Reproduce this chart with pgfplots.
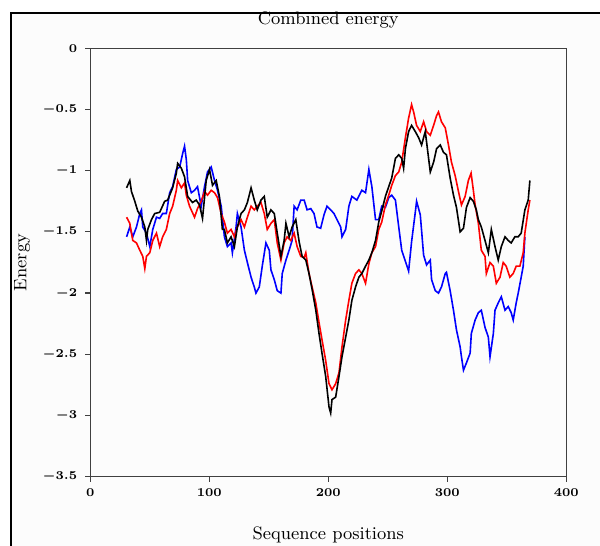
\documentclass[border=0pt]{standalone}
\usepackage{pgfplots}
\pgfplotsset{compat=1.18}

\begin{document}
\begin{tikzpicture}
% page = 600x546 px at 0.5pt per px, axis box lower-left at origin
\path[use as bounding box] (-45.15pt,-34.65pt) rectangle (254.85pt,238.35pt);
\fill[white] (-45.15pt,-34.65pt) rectangle (254.85pt,238.35pt);
\fill[black!1] (-39.65pt,-34.65pt) rectangle (254.85pt,231.85pt);
\draw[line width=1.1pt] (-39.65pt,-34.65pt) -- (-39.65pt,231.85pt) -- (254.85pt,231.85pt);
\begin{axis}[
  scale only axis,
  width=238pt, height=214.2pt,
  xmin=0, xmax=400, ymin=-3.5, ymax=0,
  xtick={0,100,200,300,400},
  ytick={0,-0.5,-1,-1.5,-2,-2.5,-3,-3.5},
  xtick pos=left, ytick pos=left,
  tick align=outside, major tick length=2.5pt,
  axis line style={black!75, line width=0.6pt},
  every tick/.style={black!75, line width=0.6pt},
  tick label style={font=\fontsize{6.5}{7}\selectfont\boldmath},
  yticklabel style={xshift=-0.5pt},
  scaled ticks=false,
  every axis title shift=0pt,
  title={Combined energy},
  title style={at={(axis description cs:0.5,1.065)}, anchor=center, font=\fontsize{9}{10}\selectfont},
  xlabel={Sequence positions},
  xlabel style={at={(axis description cs:0.5,-0.136)}, anchor=center, font=\fontsize{9}{10}\selectfont},
  ylabel={Energy},
  ylabel style={at={(axis description cs:-0.1435,0.5)}, anchor=center, font=\fontsize{9}{10}\selectfont},
  every axis plot/.append style={line width=0.8pt},
]
% blue series
\addplot[blue] coordinates {
(30.5,-1.54)(33.2,-1.46)(35.7,-1.54)(38.8,-1.46)(41.6,-1.35)(43.0,-1.32)(44.1,-1.46)(47.2,-1.51)(50.0,-1.62)(52.5,-1.48)
(55.6,-1.38)(58.3,-1.39)(60.8,-1.35)(63.9,-1.35)(66.7,-1.18)(69.2,-1.13)(72.3,-0.99)(75.1,-0.97)(77.6,-0.86)(79.2,-0.80)
(80.7,-0.91)(81.8,-1.08)(84.9,-1.18)(87.6,-1.16)(90.1,-1.13)(93.2,-1.29)(96.0,-1.13)(98.5,-1.01)(101.6,-0.97)(104.4,-1.08)
(106.9,-1.16)(110.0,-1.29)(112.7,-1.54)(115.2,-1.62)(118.3,-1.59)(119.4,-1.67)(122.5,-1.46)(123.6,-1.35)(126.7,-1.46)(129.5,-1.65)
(132.0,-1.75)(135.1,-1.87)(137.8,-1.95)(139.2,-2.00)(142.0,-1.95)(144.5,-1.78)(147.6,-1.59)(150.4,-1.65)(151.8,-1.81)(154.6,-1.89)
(157.1,-1.98)(160.2,-2.00)(161.3,-1.84)(164.4,-1.73)(167.1,-1.65)(169.6,-1.57)(171.3,-1.29)(173.8,-1.32)(176.9,-1.24)(179.7,-1.24)
(182.2,-1.32)(185.3,-1.31)(188.0,-1.35)(190.5,-1.46)(193.6,-1.47)(196.4,-1.36)(198.9,-1.29)(202.0,-1.32)(204.8,-1.35)(207.3,-1.40)
(210.4,-1.46)(211.5,-1.54)(214.6,-1.48)(217.3,-1.29)(219.8,-1.21)(224.0,-1.24)(228.2,-1.16)(231.3,-1.18)(234.1,-0.99)(236.6,-1.13)
(239.7,-1.40)(242.4,-1.40)(244.9,-1.29)(248.0,-1.30)(250.8,-1.22)(253.3,-1.20)(256.4,-1.24)(259.2,-1.46)(261.7,-1.65)(264.8,-1.74)
(267.5,-1.82)(270.0,-1.58)(273.1,-1.34)(274.2,-1.25)(277.3,-1.36)(280.1,-1.69)(282.6,-1.77)(285.7,-1.73)(286.8,-1.89)(289.9,-1.98)
(292.6,-2.00)(295.1,-1.95)(298.3,-1.84)(299.3,-1.83)(302.4,-1.98)(305.2,-2.14)(307.7,-2.30)(310.8,-2.44)(311.9,-2.52)(313.6,-2.63)
(316.1,-2.57)(319.2,-2.49)(320.2,-2.33)(323.4,-2.22)(326.1,-2.16)(328.6,-2.14)(331.7,-2.28)(334.5,-2.36)(335.9,-2.52)(338.7,-2.33)
(340.1,-2.14)(342.8,-2.08)(345.4,-2.03)(348.5,-2.14)(351.2,-2.11)(353.7,-2.16)(355.4,-2.22)(357.9,-2.08)(359.6,-2.00)(362.1,-1.87)
(363.8,-1.78)(365.2,-1.54)};
% red series
\addplot[red] coordinates {
(30.5,-1.38)(33.2,-1.43)(34.6,-1.51)(35.7,-1.57)(38.8,-1.59)(41.6,-1.65)(44.1,-1.70)(45.8,-1.80)(47.2,-1.70)(50.0,-1.67)
(52.5,-1.57)(55.6,-1.51)(58.3,-1.62)(60.8,-1.54)(63.9,-1.48)(66.7,-1.35)(69.2,-1.29)(72.3,-1.16)(73.4,-1.08)(76.5,-1.14)
(79.2,-1.10)(80.7,-1.20)(83.4,-1.29)(87.6,-1.38)(90.1,-1.31)(93.2,-1.25)(96.0,-1.17)(98.5,-1.20)(101.6,-1.16)(104.4,-1.18)
(106.9,-1.22)(110.0,-1.35)(112.7,-1.42)(115.2,-1.51)(118.3,-1.48)(121.1,-1.54)(123.6,-1.46)(126.7,-1.40)(129.5,-1.46)(132.0,-1.38)
(135.1,-1.29)(137.8,-1.32)(140.3,-1.29)(143.4,-1.26)(146.2,-1.35)(148.7,-1.48)(151.8,-1.43)(154.6,-1.40)(157.1,-1.59)(160.2,-1.73)
(162.9,-1.59)(165.4,-1.54)(168.5,-1.57)(171.3,-1.51)(173.8,-1.62)(176.9,-1.70)(179.7,-1.71)(181.1,-1.67)(183.8,-1.84)(186.4,-1.95)
(189.5,-2.08)(192.2,-2.24)(194.7,-2.38)(197.8,-2.55)(200.6,-2.74)(203.1,-2.79)(206.2,-2.74)(209.0,-2.65)(211.5,-2.44)(214.6,-2.22)
(217.3,-2.06)(219.8,-1.92)(222.9,-1.84)(225.7,-1.81)(228.2,-1.84)(231.3,-1.92)(234.1,-1.76)(236.6,-1.67)(239.7,-1.62)(242.4,-1.48)
(244.9,-1.42)(248.0,-1.28)(250.8,-1.20)(253.3,-1.12)(256.4,-1.04)(259.2,-1.01)(261.7,-0.93)(264.8,-0.73)(267.5,-0.57)(270.0,-0.46)
(271.7,-0.52)(274.2,-0.63)(277.3,-0.68)(280.1,-0.60)(282.6,-0.68)(285.7,-0.71)(288.5,-0.63)(291.0,-0.55)(292.6,-0.52)(295.1,-0.60)
(298.3,-0.65)(301.0,-0.79)(303.5,-0.93)(306.6,-1.04)(309.4,-1.17)(311.9,-1.28)(315.0,-1.21)(317.7,-1.08)(320.0,-1.02)(321.9,-1.16)
(323.4,-1.28)(326.1,-1.43)(328.6,-1.65)(331.7,-1.70)(332.8,-1.84)(335.9,-1.75)(338.7,-1.78)(341.2,-1.92)(344.3,-1.87)(347.0,-1.75)
(349.5,-1.78)(352.6,-1.87)(355.4,-1.84)(357.9,-1.78)(361.0,-1.78)(363.8,-1.67)(365.2,-1.51)(368.0,-1.32)(369.4,-1.24)};
% black series
\addplot[black] coordinates {
(30.5,-1.14)(33.2,-1.08)(34.6,-1.17)(37.4,-1.25)(39.9,-1.33)(43.0,-1.38)(45.8,-1.46)(47.2,-1.57)(48.3,-1.48)(51.4,-1.40)
(54.1,-1.35)(58.3,-1.34)(62.5,-1.25)(65.0,-1.24)(69.2,-1.14)(72.3,-1.02)(73.4,-0.94)(76.5,-0.98)(79.2,-1.05)(81.8,-1.21)
(85.9,-1.26)(89.0,-1.24)(91.8,-1.28)(94.3,-1.39)(97.4,-1.08)(100.2,-0.99)(102.7,-1.12)(105.8,-1.08)(108.5,-1.21)(111.0,-1.48)
(112.7,-1.48)(115.2,-1.59)(118.3,-1.54)(121.1,-1.62)(123.6,-1.46)(126.7,-1.35)(129.5,-1.32)(132.0,-1.26)(135.1,-1.14)(137.8,-1.24)
(140.3,-1.32)(143.4,-1.24)(146.2,-1.21)(148.7,-1.38)(151.8,-1.32)(154.6,-1.35)(157.1,-1.51)(160.2,-1.70)(162.9,-1.57)(164.4,-1.43)
(167.1,-1.54)(169.6,-1.46)(172.7,-1.40)(175.5,-1.58)(178.0,-1.70)(181.1,-1.73)(183.8,-1.84)(186.4,-1.97)(189.5,-2.14)(192.2,-2.33)
(194.7,-2.49)(197.8,-2.68)(200.6,-2.93)(202.0,-2.98)(203.1,-2.87)(206.2,-2.85)(209.0,-2.68)(211.5,-2.52)(214.6,-2.36)(217.3,-2.22)
(219.8,-2.06)(222.9,-1.95)(225.7,-1.87)(228.2,-1.84)(231.3,-1.78)(234.1,-1.73)(236.6,-1.67)(239.7,-1.57)(242.4,-1.42)(244.9,-1.33)
(248.0,-1.21)(250.8,-1.13)(253.3,-1.06)(256.4,-0.90)(259.2,-0.87)(261.7,-0.90)(263.3,-0.98)(264.8,-0.82)(267.5,-0.68)(270.0,-0.63)
(273.1,-0.68)(275.9,-0.73)(278.4,-0.79)(281.5,-0.68)(284.3,-0.90)(285.7,-1.01)(288.5,-0.93)(291.0,-0.82)(294.1,-0.79)(296.8,-0.85)
(299.3,-0.87)(302.4,-1.06)(305.2,-1.20)(307.7,-1.30)(310.8,-1.50)(313.6,-1.47)(316.1,-1.30)(319.2,-1.22)(321.9,-1.25)(324.4,-1.32)
(326.1,-1.40)(328.6,-1.46)(331.7,-1.57)(334.5,-1.67)(337.0,-1.48)(340.1,-1.62)(342.8,-1.73)(345.4,-1.62)(348.5,-1.54)(351.2,-1.57)
(353.7,-1.59)(356.8,-1.54)(359.6,-1.54)(362.1,-1.51)(365.2,-1.32)(368.0,-1.24)(369.4,-1.08)};
\end{axis}
\end{tikzpicture}
\end{document}
